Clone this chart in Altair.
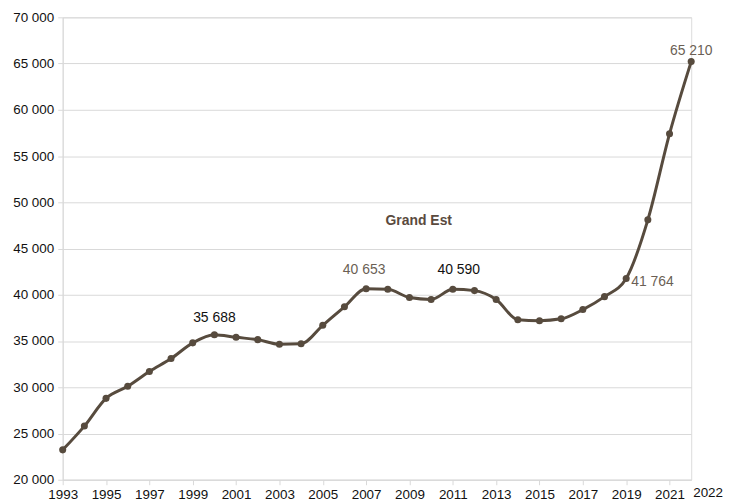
import altair as alt
import pandas as pd

years = list(range(1993, 2023))
values = [23230, 25800, 28800, 30100, 31700, 33100, 34800, 35688, 35400, 35150,
          34650, 34700, 36700, 38700, 40653, 40600, 39700, 39500, 40590, 40450,
          39500, 37300, 37200, 37400, 38400, 39800, 41764, 48100, 57400, 65210]

label_years = [2000, 2007, 2011, 2019, 2022]
label_values = [35688, 40653, 40590, 41764, 65210]
label_texts = ["35 688", "40 653", "40 590", "41 764", "65 210"]
label_colors = ["#111111", "#6b5f55", "#111111", "#6b5f55", "#6b5f55"]
label_align = ["center", "center", "center", "left", "center"]
label_dx = [0, -2, 6, 5, 0]
label_dy = [-17, -19, -19, 4, -11]

title_text = ["Grand Est"]
title_year = [2009.43]
title_value = [47960]

end_year_label = ["2022"]
end_year = [2022]
axis_floor = [20000]

line_color = "#574b3e"

df = pd.DataFrame({"year": years, "value": values})

x_axis = alt.Axis(
    values=years,
    labelExpr="(datum.value % 2 == 1) ? datum.value : ''",
    labelPadding=3,
    labelOverlap=False,
    labelFlush=False,
    labelFontSize=13.5,
    labelColor="#111111",
    labelFont="Liberation Sans",
    tickSize=5,
    tickColor="#d9d9d9",
    domainColor="#d9d9d9",
    grid=False,
    title=None,
)

y_axis = alt.Axis(
    values=list(range(20000, 70001, 5000)),
    labelExpr="replace(format(datum.value, ','), ',', ' ')",
    labelFontSize=13.5,
    labelColor="#111111",
    labelFont="Liberation Sans",
    labelPadding=4,
    tickSize=5,
    tickColor="#d9d9d9",
    domainColor="#d9d9d9",
    gridColor="#d9d9d9",
    title=None,
)

x = alt.X("year:Q", scale=alt.Scale(domain=[1993, 2022], nice=False, zero=False), axis=x_axis)
y = alt.Y("value:Q", scale=alt.Scale(domain=[20000, 70000], nice=False, zero=False), axis=y_axis)

line = alt.Chart(df).mark_line(
    interpolate="monotone", color=line_color, strokeWidth=3
).encode(x=x, y=y)

pts = alt.Chart(df).mark_circle(color=line_color, size=50, opacity=1).encode(x=x, y=y)

layers = [line, pts]
for yr, v, t, c, a, dx, dy in zip(label_years, label_values, label_texts, label_colors,
                                  label_align, label_dx, label_dy):
    ldf = pd.DataFrame({"year": [yr], "value": [v], "text": [t]})
    layers.append(
        alt.Chart(ldf).mark_text(
            color=c, align=a, baseline="middle", dx=dx, dy=dy,
            fontSize=14, font="Liberation Sans"
        ).encode(x=alt.X("year:Q"), y=alt.Y("value:Q"), text="text:N")
    )

tdf = pd.DataFrame({"year": title_year, "value": title_value, "text": title_text})
layers.append(
    alt.Chart(tdf).mark_text(
        color="#5a4a3e", fontWeight="bold", fontSize=14, font="Liberation Sans",
        align="center", baseline="middle"
    ).encode(x=alt.X("year:Q"), y=alt.Y("value:Q"), text="text:N")
)

edf = pd.DataFrame({"year": end_year, "value": axis_floor, "text": end_year_label})
layers.append(
    alt.Chart(edf).mark_text(
        color="#111111", fontSize=13.5, font="Liberation Sans",
        align="left", baseline="middle", dx=2, dy=13
    ).encode(x=alt.X("year:Q"), y=alt.Y("value:Q"), text="text:N")
)

chart = alt.layer(*layers).properties(
    width=632, height=465,
    autosize=alt.AutoSizeParams(type="none"),
    padding={"left": 55, "top": 8, "right": 36, "bottom": 20},
).configure_view(stroke=None).configure(background="white")

chart.save("out.html", embed_options={"renderer": "svg", "actions": False})
